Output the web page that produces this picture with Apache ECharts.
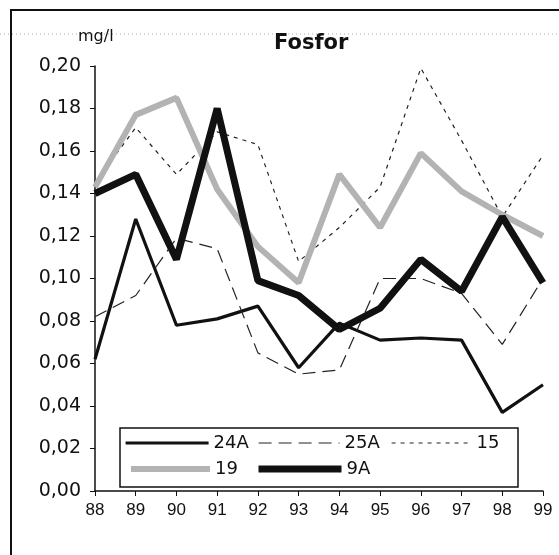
<!DOCTYPE html>
<html>
<head>
<meta charset="utf-8">
<script src="https://cdn.jsdelivr.net/npm/echarts@6/dist/echarts.min.js"></script>
<style>
  html, body { margin: 0; padding: 0; background: #fff; }
  #chart { width: 559px; height: 555px; }
</style>
</head>
<body>
<div id="chart"></div>
<script>
const years = ['88', '89', '90', '91', '92', '93', '94', '95', '96', '97', '98', '99'];
const s24A = [0.062, 0.128, 0.078, 0.081, 0.087, 0.058, 0.079, 0.071, 0.072, 0.071, 0.037, 0.050];
const s25A = [0.082, 0.092, 0.119, 0.114, 0.065, 0.055, 0.057, 0.100, 0.100, 0.093, 0.069, 0.100];
const s15 = [0.145, 0.171, 0.149, 0.169, 0.163, 0.108, 0.124, 0.143, 0.199, 0.165, 0.129, 0.158];
const s19 = [0.143, 0.177, 0.185, 0.142, 0.115, 0.098, 0.149, 0.124, 0.159, 0.141, 0.130, 0.120];
const s9A = [0.140, 0.149, 0.109, 0.180, 0.099, 0.092, 0.076, 0.086, 0.109, 0.094, 0.129, 0.098];

const chart = echarts.init(document.getElementById('chart'));

// one legend per item so each sample sits where it does in the original
const legendItem = (name, left, top, width) => ({
  data: [name],
  left: left,
  top: top,
  orient: 'horizontal',
  itemWidth: width,
  itemHeight: 14,
  padding: 0,
  selectedMode: false,
  itemStyle: { opacity: 0 },
  lineStyle: { width: 'inherit' },
  textStyle: { fontFamily: 'DejaVu Sans', fontSize: 18, color: '#111', lineHeight: 18 }
});

const line = (name, data, color, width, type) => ({
  name: name,
  type: 'line',
  data: data,
  symbol: 'none',
  lineStyle: { color: color, width: width, type: type },
  itemStyle: { color: color },
  animation: false
});

chart.setOption({
  backgroundColor: '#fff',
  grid: { left: 95, right: 16, top: 66, bottom: 64 },
  legend: [
    legendItem('24A', 124, 434, 83),
    legendItem('25A', 258, 434, 81),
    legendItem('15', 391, 434, 80),
    legendItem('19', 128, 460, 79),
    legendItem('9A', 255, 460, 83)
  ],
  xAxis: {
    type: 'category',
    data: years,
    boundaryGap: false,
    axisLine: { lineStyle: { color: '#111', width: 1.5 } },
    axisTick: { show: true, inside: false, length: 5, lineStyle: { color: '#111' } },
    axisLabel: { fontFamily: 'Liberation Sans', fontSize: 17, color: '#111', margin: 11 },
    splitLine: { show: false }
  },
  yAxis: {
    type: 'value',
    min: 0,
    max: 0.2,
    interval: 0.02,
    axisLine: { show: true, lineStyle: { color: '#111', width: 1.5 } },
    axisTick: { show: true, inside: false, length: 5, lineStyle: { color: '#111' } },
    axisLabel: {
      fontFamily: 'DejaVu Sans',
      fontSize: 19,
      color: '#111',
      margin: 14,
      formatter: v => v.toFixed(2).replace('.', ',')
    },
    splitLine: { show: false }
  },
  graphic: [
    // outer frame
    { type: 'rect', shape: { x: 11, y: 10, width: 600, height: 600 }, style: { fill: 'none', stroke: '#111', lineWidth: 2 }, z: 0 },
    // faint dotted scan line
    { type: 'line', shape: { x1: 0, y1: 34, x2: 559, y2: 34 }, style: { stroke: '#aaa', lineWidth: 1, lineDash: [1, 3] }, z: 0 },
    { type: 'text', left: 78, top: 29, style: { text: 'mg/l', fontFamily: 'DejaVu Sans', fontSize: 16, fill: '#111' } },
    { type: 'text', left: 274, top: 33, style: { text: 'Fosfor', fontFamily: 'DejaVu Sans', fontWeight: 'bold', fontSize: 21, fill: '#111' } },
    // legend box
    { type: 'rect', shape: { x: 120, y: 428, width: 398, height: 59 }, style: { fill: '#fff', stroke: '#111', lineWidth: 1.5 }, z: 1 }
  ],
  series: [
    line('24A', s24A, '#111', 3.2, 'solid'),
    line('25A', s25A, '#222', 1.2, [13, 7]),
    line('15', s15, '#222', 1.2, [4, 5]),
    line('19', s19, '#b3b3b3', 6, 'solid'),
    line('9A', s9A, '#111', 7, 'solid')
  ]
});
</script>
</body>
</html>
